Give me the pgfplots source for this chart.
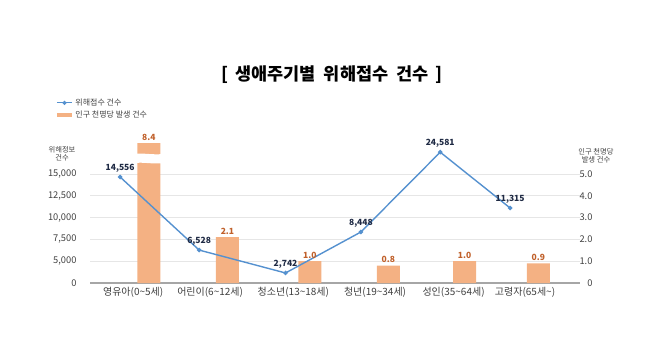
\documentclass[border=0pt]{standalone}
\usepackage{fontspec}
\setmainfont{Noto Sans CJK KR}
\usepackage{pgfplots}
\pgfplotsset{compat=1.18}
\usepackage{pgfplotstable}
\definecolor{lineblue}{HTML}{5591CF}
\definecolor{barorange}{HTML}{F4B183}
\definecolor{barlab}{HTML}{C0602A}
\definecolor{linelab}{HTML}{1F2A44}
\definecolor{gridc}{HTML}{E6E6E6}
\definecolor{axisc}{HTML}{A6A6A6}
\definecolor{textc}{HTML}{404040}

% line: x position, display height (in right-axis units), reported count
\pgfplotstableread{
x y v
-0.166 4.86 14556
0.84 1.51 6528
1.94 0.46 2742
2.90 2.34 8448
3.91 6.00 24581
4.80 3.44 11315
}\linedata

% bars: x position, display height, value per thousand people (8.4 bar is broken)
\pgfplotstableread{
x y v
0.20 6.42 8.4
1.20 2.1 2.1
2.25 1.0 1.0
3.25 0.8 0.8
4.22 1.0 1.0
5.16 0.9 0.9
}\bardata

\pgfplotsset{/pgf/number format/assume math mode=true}

\begin{document}
\begin{tikzpicture}
\useasboundingbox (0pt,0pt) rectangle (658pt,359pt);
\node[font=\fontsize{17.5}{19}\selectfont\bfseries, text=black] at (332pt,284pt) {[\, 생애주기별 \ 위해접수 \ 건수 \,]};

\begin{axis}[
  at={(90pt,76pt)}, anchor=south west,
  scale only axis, width=490pt, height=143.9pt,
  xmin=-0.55, xmax=5.69, ymin=0, ymax=6.6,
  clip=false,
  axis x line*=bottom, axis y line*=left,
  y axis line style={draw=none},
  x axis line style={axisc, line width=1.2pt},
  tick style={draw=none},
  ymajorgrids, grid style={gridc, line width=0.8pt},
  ytick={0,1,2,3,4,5},
  yticklabels={0,{5,000},{7,500},{10,000},{12,500},{15,000}},
  yticklabel style={font=\fontsize{9.3}{10}\selectfont, text=textc, anchor=east, xshift=-10pt},
  xtick={0,0.98,2.04,3.08,4.08,4.99},
  xticklabels={영유아(0\textasciitilde5세),어린이(6\textasciitilde12세),청소년(13\textasciitilde18세),청년(19\textasciitilde34세),성인(35\textasciitilde64세),고령자(65세\textasciitilde)},
  xticklabel style={font=\fontsize{10}{11}\selectfont, text=textc, yshift=-1pt},
  legend style={at={(-0.078,1.306)}, anchor=north west, draw=none, fill=none,
    font=\fontsize{8}{9}\selectfont, text=textc, row sep=1pt,
    nodes={inner sep=1.5pt}},
  legend cell align=left,
  legend image code/.code={\draw[mark repeat=2,mark phase=2,#1] plot coordinates {(0pt,0pt) (7.5pt,0pt) (15pt,0pt)};},
]
\addlegendimage{lineblue, line width=1.3pt, mark=*, mark size=1.3pt}
\addlegendentry{위해접수 건수}
\addlegendimage{barorange, line width=4pt}
\addlegendentry{인구 천명당 발생 건수}

\addplot[ybar, bar width=23pt, bar shift=0pt, fill=barorange, draw=none, forget plot,
  point meta=explicit,
  nodes near coords={\pgfmathprintnumber[fixed,fixed zerofill,precision=1]{\pgfplotspointmeta}},
  every node near coord/.style={font=\bfseries\fontsize{8.5}{10}\selectfont, text=barlab, anchor=south, yshift=-1pt}]
  table[x=x,y=y,meta=v]{\bardata};

\fill[white] (0.02,5.50) .. controls (0.12,5.56) and (0.25,5.44) .. (0.38,5.50) -- (0.38,5.92) .. controls (0.25,5.86) and (0.12,5.98) .. (0.02,5.92) -- cycle;

\addplot[lineblue, line width=1.4pt, mark=*, mark size=1.5pt, forget plot,
  point meta=explicit,
  nodes near coords={\pgfmathprintnumber[fixed,1000 sep={,}]{\pgfplotspointmeta}},
  every node near coord/.style={font=\bfseries\fontsize{8.5}{10}\selectfont, text=linelab, anchor=south, yshift=1pt}]
  table[x=x,y=y,meta=v]{\linedata};
\end{axis}

\begin{axis}[
  at={(90pt,76pt)}, anchor=south west,
  scale only axis, width=490pt, height=143.9pt,
  xmin=-0.55, xmax=5.69, ymin=0, ymax=6.6,
  axis x line=none, axis y line*=right,
  y axis line style={draw=none},
  tick style={draw=none},
  ytick={0,1,2,3,4,5},
  yticklabels={0,1.0,2.0,3.0,4.0,5.0},
  yticklabel style={font=\fontsize{9.3}{10}\selectfont, text=textc, anchor=east, xshift=16pt},
]
\addplot[draw=none, forget plot] coordinates {(0,0)};
\end{axis}

\node[font=\fontsize{7.3}{8.5}\selectfont, text=textc, align=center] at (62pt,205pt) {위해정보\\건수};
\node[font=\fontsize{7.3}{8.5}\selectfont, text=textc, align=center] at (596pt,203pt) {인구 천명당\\발생 건수};
\end{tikzpicture}
\end{document}
